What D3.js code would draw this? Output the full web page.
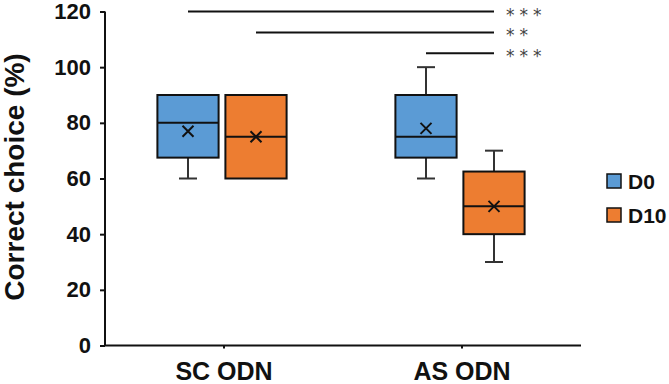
<!DOCTYPE html>
<html lang="en">
<head>
  <meta charset="UTF-8">
  <title>Correct choice</title>
  <style>
    body { margin: 0; background: #fff; }
    .tick text { font-family: "Liberation Sans", Arial, sans-serif; font-weight: bold; }
  </style>
</head>
<body>
  <div class="warp"></div>
  <script src="https://cdn.jsdelivr.net/npm/d3@7"></script>
  <script>
    var categories = ['SC ODN', 'AS ODN'];
    var series = ['D0', 'D10'];
    var colors = ['#5B9BD5', '#ED7D31'];
    // per series, one value per category
    var mins    = [[60, 60],   [60, 30]];
    var q1s     = [[67.5, 67.5], [60, 40]];
    var medians = [[80, 75],   [75, 50]];
    var q3s     = [[90, 90],   [90, 62.5]];
    var maxs    = [[90, 100],  [90, 70]];
    var means   = [[77, 78],   [75, 50]];
    var yTicks = [0, 20, 40, 60, 80, 100, 120];
    // significance: [category, series] -> [category, series]
    var sigFrom = [['SC ODN', 'D0'], ['SC ODN', 'D10'], ['AS ODN', 'D0']];
    var sigTo = [['AS ODN', 'D10'], ['AS ODN', 'D10'], ['AS ODN', 'D10']];
    var sigY = [120, 112.5, 105];
    var sigLabel = ['***', '**', '***'];

    var W = 669, H = 384;
    var svg = d3.select('.warp').append('svg').attr('width', W).attr('height', H);

    var y = d3.scaleLinear().domain([0, 120]).range([345.5, 11.5]);
    var x = d3.scaleBand().domain(categories).range([105, 581]);
    var x1 = d3.scaleBand().domain(series).range([-70, 66]);
    var bw = x1.bandwidth() * 0.9;

    function cx(cat, s) { return x(cat) + x.bandwidth() / 2 + x1(s) + x1.bandwidth() / 2; }

    // boxes
    var boxes = [];
    series.forEach(function (s, si) {
      categories.forEach(function (c, ci) {
        boxes.push({ cat: c, s: s, color: colors[si], min: mins[si][ci], q1: q1s[si][ci], med: medians[si][ci], q3: q3s[si][ci], max: maxs[si][ci], mean: means[si][ci] });
      });
    });

    var g = svg.selectAll('g.box').data(boxes).enter().append('g').attr('class', 'box');
    // whiskers
    g.filter(function (d) { return d.max > d.q3; }).each(function (d) {
      var gg = d3.select(this), c = cx(d.cat, d.s);
      gg.append('line').attr('x1', c).attr('x2', c).attr('y1', y(d.max)).attr('y2', y(d.q3)).attr('stroke', '#333').attr('stroke-width', 2);
      gg.append('line').attr('x1', c - 9).attr('x2', c + 9).attr('y1', y(d.max)).attr('y2', y(d.max)).attr('stroke', '#333').attr('stroke-width', 2);
    });
    g.filter(function (d) { return d.min < d.q1; }).each(function (d) {
      var gg = d3.select(this), c = cx(d.cat, d.s);
      gg.append('line').attr('x1', c).attr('x2', c).attr('y1', y(d.q1)).attr('y2', y(d.min)).attr('stroke', '#333').attr('stroke-width', 2);
      gg.append('line').attr('x1', c - 9).attr('x2', c + 9).attr('y1', y(d.min)).attr('y2', y(d.min)).attr('stroke', '#333').attr('stroke-width', 2);
    });
    g.append('rect')
      .attr('x', function (d) { return cx(d.cat, d.s) - bw / 2; })
      .attr('y', function (d) { return y(d.q3); })
      .attr('width', bw)
      .attr('height', function (d) { return y(d.q1) - y(d.q3); })
      .attr('fill', function (d) { return d.color; })
      .attr('stroke', '#111').attr('stroke-width', 2);
    g.append('line')
      .attr('x1', function (d) { return cx(d.cat, d.s) - bw / 2; })
      .attr('x2', function (d) { return cx(d.cat, d.s) + bw / 2; })
      .attr('y1', function (d) { return y(d.med); })
      .attr('y2', function (d) { return y(d.med); })
      .attr('stroke', '#111').attr('stroke-width', 2);
    // mean markers
    g.append('path')
      .attr('d', function (d) {
        var c = cx(d.cat, d.s), m = y(d.mean), r = 5.5;
        return 'M' + (c - r) + ',' + (m - r) + 'L' + (c + r) + ',' + (m + r) + 'M' + (c - r) + ',' + (m + r) + 'L' + (c + r) + ',' + (m - r);
      })
      .attr('stroke', '#111').attr('stroke-width', 2).attr('fill', 'none');

    // axes
    var yAxis = svg.append('g').attr('transform', 'translate(105,0)')
      .call(d3.axisLeft(y).tickValues(yTicks).tickSize(5).tickPadding(9));
    yAxis.selectAll('text').style('font-size', '22px').attr('fill', '#111');
    yAxis.selectAll('line, path').attr('stroke', '#111').attr('stroke-width', 2);
    yAxis.select('path').attr('d', 'M0,' + y(120) + 'V' + y(0));

    var xAxis = svg.append('g').attr('transform', 'translate(0,345.5)')
      .call(d3.axisBottom(x).tickSize(3).tickPadding(14));
    xAxis.selectAll('text').style('font-size', '25px').attr('fill', '#111');
    xAxis.selectAll('line, path').attr('stroke', '#111').attr('stroke-width', 2);
    xAxis.select('path').attr('d', 'M105,0H581');

    svg.append('text')
      .attr('transform', 'translate(24,177) rotate(-90)')
      .attr('text-anchor', 'middle')
      .style('font-family', '"Liberation Sans", Arial, sans-serif')
      .style('font-weight', 'bold').style('font-size', '28px').attr('fill', '#111')
      .text('Correct choice (%)');

    // significance lines
    sigY.forEach(function (v, i) {
      var xa = cx(sigFrom[i][0], sigFrom[i][1]), xb = cx(sigTo[i][0], sigTo[i][1]);
      svg.append('line').attr('x1', xa).attr('x2', xb).attr('y1', y(v)).attr('y2', y(v))
        .attr('stroke', '#111').attr('stroke-width', 2);
      svg.append('text').attr('x', xb + 12).attr('y', y(v) + 9)
        .style('font-family', '"DejaVu Sans", sans-serif').style('font-size', '17px')
        .style('letter-spacing', '5px').attr('fill', '#444')
        .text(sigLabel[i]);
    });

    // legend
    var leg = svg.selectAll('g.leg').data(series).enter().append('g').attr('class', 'leg')
      .attr('transform', function (d, i) { return 'translate(607,' + (174 + i * 34) + ')'; });
    leg.append('rect').attr('width', 14).attr('height', 14)
      .attr('fill', function (d, i) { return colors[i]; }).attr('stroke', '#111').attr('stroke-width', 1.5);
    leg.append('text').attr('x', 21).attr('y', 14.5)
      .style('font-family', '"Liberation Sans", Arial, sans-serif')
      .style('font-weight', 'bold').style('font-size', '21px').attr('fill', '#111')
      .text(function (d) { return d; });
  </script>
</body>
</html>
